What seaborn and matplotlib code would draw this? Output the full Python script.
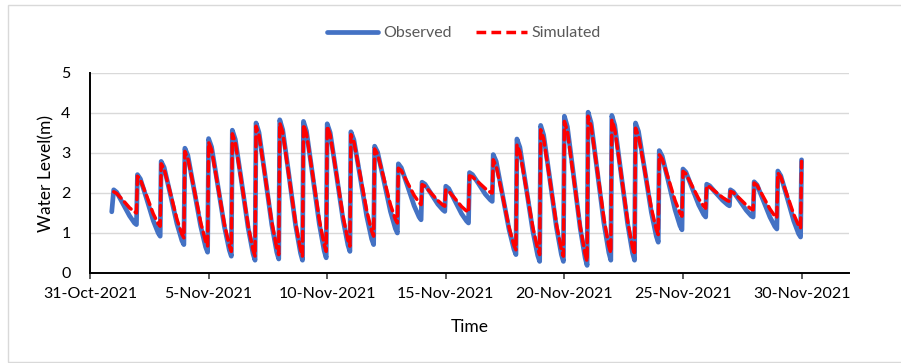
import numpy as np
import pandas as pd
import matplotlib
matplotlib.use("Agg")
import matplotlib.pyplot as plt
import matplotlib.dates as mdates
from matplotlib.lines import Line2D
from matplotlib.patches import Rectangle
import seaborn as sns

# Valores (um ciclo por dia: pico ~00h, descida lenta, cavado ~23h)
dias = pd.date_range("2021-11-01", "2021-11-29", freq="D")
horas = [0, 3, 9, 16, 21, 23]

obs_inicio = 1.53  # 31-Oct 22h
obs_pico = [2.08, 2.46, 2.79, 3.12, 3.36, 3.57, 3.75, 3.83, 3.79, 3.73,
            3.53, 3.17, 2.73, 2.27, 2.17, 2.51, 2.96, 3.35, 3.69, 3.92,
            4.02, 3.94, 3.75, 3.06, 2.60, 2.22, 2.08, 2.28, 2.55]
obs_h3 = [2.02, 2.35, 2.64, 2.94, 3.15, 3.34, 3.51, 3.58, 3.55, 3.51,
          3.33, 3.02, 2.63, 2.22, 2.11, 2.46, 2.79, 3.14, 3.45, 3.66,
          3.76, 3.69, 3.54, 2.92, 2.52, 2.18, 2.03, 2.20, 2.43]
obs_h9 = [1.75, 1.88, 2.00, 2.13, 2.24, 2.34, 2.46, 2.50, 2.49, 2.52,
          2.46, 2.35, 2.20, 1.99, 1.82, 2.24, 2.01, 2.19, 2.40, 2.50,
          2.61, 2.56, 2.62, 2.31, 2.14, 2.01, 1.82, 1.83, 1.92]
obs_h16 = [1.43, 1.31, 1.23, 1.17, 1.16, 1.13, 1.20, 1.20, 1.23, 1.34,
           1.42, 1.54, 1.68, 1.72, 1.48, 1.97, 1.09, 1.06, 1.14, 1.12,
           1.25, 1.23, 1.52, 1.58, 1.70, 1.82, 1.57, 1.40, 1.31]
obs_h21 = [1.25, 1.00, 0.81, 0.65, 0.57, 0.48, 0.52, 0.50, 0.55, 0.70,
           0.85, 1.11, 1.40, 1.58, 1.30, 1.83, 0.59, 0.44, 0.46, 0.38,
           0.51, 0.50, 0.92, 1.18, 1.46, 1.71, 1.43, 1.16, 0.98]
obs_vale = [1.21, 0.92, 0.71, 0.52, 0.42, 0.32, 0.35, 0.32, 0.38, 0.54,
            0.71, 1.00, 1.33, 1.54, 1.25, 1.79, 0.46, 0.29, 0.29, 0.19,
            0.32, 0.32, 0.77, 1.08, 1.40, 1.68, 1.40, 1.10, 0.90]
obs_fim = 2.83  # 30-Nov 00h

sim_pico = [2.03, 2.42, 2.73, 3.04, 3.27, 3.48, 3.67, 3.75, 3.71, 3.67,
            3.46, 3.10, 2.62, 2.21, 2.08, 2.43, 2.83, 3.21, 3.58, 3.79,
            3.92, 3.83, 3.62, 2.96, 2.54, 2.18, 2.04, 2.25, 2.50]
sim_h3 = [1.99, 2.33, 2.60, 2.87, 3.08, 3.27, 3.45, 3.52, 3.49, 3.46,
          3.28, 2.97, 2.56, 2.17, 2.04, 2.40, 2.67, 3.02, 3.36, 3.55,
          3.68, 3.59, 3.43, 2.85, 2.48, 2.15, 2.01, 2.19, 2.40]
sim_h9 = [1.83, 1.95, 2.03, 2.14, 2.23, 2.32, 2.45, 2.48, 2.51, 2.53,
          2.50, 2.40, 2.27, 2.00, 1.87, 2.27, 1.98, 2.17, 2.38, 2.46,
          2.62, 2.55, 2.61, 2.38, 2.19, 2.03, 1.87, 1.92, 1.98]
sim_h16 = [1.63, 1.48, 1.34, 1.26, 1.22, 1.19, 1.26, 1.25, 1.33, 1.42,
           1.56, 1.71, 1.94, 1.81, 1.66, 2.11, 1.14, 1.15, 1.21, 1.17,
           1.36, 1.30, 1.62, 1.81, 1.85, 1.89, 1.70, 1.60, 1.47]
sim_h21 = [1.53, 1.23, 0.97, 0.79, 0.68, 0.57, 0.62, 0.59, 0.70, 0.82,
           1.05, 1.34, 1.76, 1.70, 1.55, 2.02, 0.69, 0.60, 0.58, 0.47,
           0.67, 0.63, 1.09, 1.50, 1.67, 1.81, 1.60, 1.42, 1.19]
sim_vale = [1.50, 1.17, 0.88, 0.67, 0.54, 0.42, 0.46, 0.42, 0.54, 0.67,
            0.92, 1.25, 1.71, 1.67, 1.52, 2.00, 0.58, 0.46, 0.42, 0.29,
            0.50, 0.46, 0.96, 1.42, 1.62, 1.79, 1.58, 1.38, 1.12]
sim_fim = 2.79

x_ticks = pd.to_datetime(["2021-10-31", "2021-11-05", "2021-11-10", "2021-11-15",
                          "2021-11-20", "2021-11-25", "2021-11-30"])


def montar_serie(colunas, fim, inicio=None):
    tempos, valores = [], []
    if inicio is not None:
        tempos.append(pd.Timestamp("2021-10-31 22:00"))
        valores.append(inicio)
    for i, d in enumerate(dias):
        for h, col in zip(horas, colunas):
            tempos.append(d + pd.Timedelta(hours=h))
            valores.append(col[i])
    tempos.append(pd.Timestamp("2021-11-30 00:00"))
    valores.append(fim)
    return pd.DataFrame({"Time": tempos, "Level": valores})


obs = montar_serie([obs_pico, obs_h3, obs_h9, obs_h16, obs_h21, obs_vale], obs_fim, obs_inicio)
sim = montar_serie([sim_pico, sim_h3, sim_h9, sim_h16, sim_h21, sim_vale], sim_fim)

sns.set_theme(style="white")
plt.rcParams["font.family"] = ["Lato", "DejaVu Sans"]

fig = plt.figure(figsize=(9.01, 3.63), dpi=100)
ax = fig.add_axes([90 / 901, 1 - 273 / 363, (849 - 90) / 901, 200 / 363])

# moldura do gráfico
fig.patches.append(Rectangle((8 / 901, 1 / 363), 1.2, 357 / 363, transform=fig.transFigure,
                             fill=False, edgecolor="#d9d9d9", linewidth=1))

cor_obs = "#4472C4"
cor_sim = "#FF0000"
sns.lineplot(data=obs, x="Time", y="Level", ax=ax, color=cor_obs, linewidth=3.4,
             solid_joinstyle="round", solid_capstyle="round")
sns.lineplot(data=sim, x="Time", y="Level", ax=ax, color=cor_sim, linewidth=2.5,
             dashes=False)
ax.lines[-1].set_dashes([2.8, 1.5])
ax.lines[-1].set_dash_capstyle("round")
ax.lines[-1].set_dash_joinstyle("round")

ax.set_ylim(0, 5)
ax.set_yticks([0, 1, 2, 3, 4, 5])
ax.set_xlim(pd.Timestamp("2021-10-31"), pd.Timestamp("2021-12-02"))
ax.set_xticks(x_ticks)
ax.xaxis.set_major_formatter(mdates.DateFormatter("%-d-%b-%Y"))

ax.grid(axis="y", color="#d9d9d9", linewidth=1)
ax.grid(axis="x", visible=False)
ax.set_axisbelow(True)
for lado in ["top", "right"]:
    ax.spines[lado].set_visible(False)
for lado in ["left", "bottom"]:
    ax.spines[lado].set_color("black")
    ax.spines[lado].set_linewidth(1.4)

ax.tick_params(axis="y", length=0, pad=14, labelsize=11.5, labelcolor="black")
ax.tick_params(axis="x", direction="out", length=4, width=1.2, color="#404040",
               pad=6, labelsize=11.5, labelcolor="black", bottom=True)

ax.set_xlabel("Time", fontsize=12.5, color="black", labelpad=13)
ax.set_ylabel("Water Level(m)", fontsize=12.5, color="black", labelpad=5)

handles = [Line2D([], [], color=cor_obs, linewidth=3.4),
           Line2D([], [], color=cor_sim, linewidth=2.5, dashes=[2.8, 1.5])]
fig.legend(handles, ["Observed", "Simulated"], loc="center", bbox_to_anchor=(0.515, 0.909),
           ncol=2, frameon=False, fontsize=11.5, labelcolor="#595959",
           handlelength=3.2, handletextpad=0.3, columnspacing=1.5)

fig.savefig("out.png", dpi=100)
